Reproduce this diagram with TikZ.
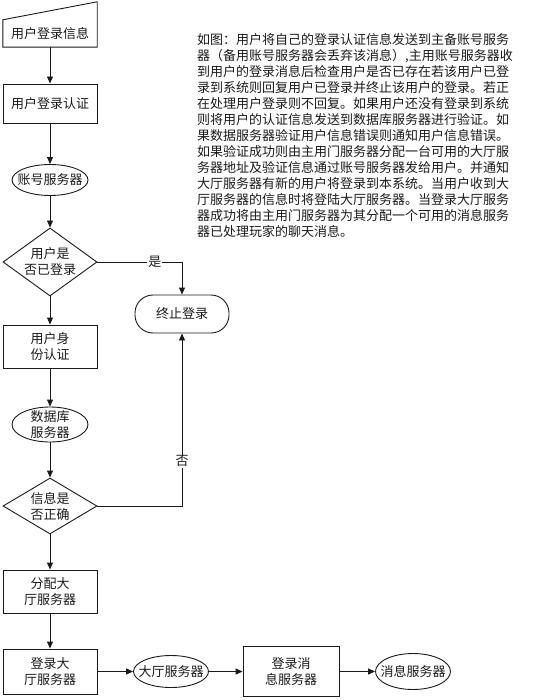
\documentclass[tikz,border=0pt]{standalone}
\usepackage{fontspec}
\setmainfont{Noto Sans CJK SC}
\usetikzlibrary{shapes.geometric,arrows.meta}
\definecolor{inkgrey}{HTML}{1A1A1A}

\tikzset{
  flowline/.style={draw=inkgrey, line width=0.9pt},
  flowarrow/.style={flowline, -{Triangle[length=7pt,width=6pt]}},
  procbox/.style={rectangle, draw=inkgrey, line width=0.9pt, minimum width=94pt,
    inner sep=0pt, align=center},
  serverball/.style={ellipse, draw=inkgrey, line width=0.9pt, inner xsep=-6pt,
    inner ysep=-3pt, minimum width=76pt, minimum height=31pt, align=center},
  decision/.style={diamond, draw=inkgrey, line width=0.9pt, inner sep=-3pt,
    minimum width=94pt, minimum height=55pt, align=center},
  terminal/.style={rectangle, rounded corners=18pt, draw=inkgrey, line width=0.9pt,
    minimum width=94pt, minimum height=38pt},
  branchlabel/.style={fill=white, inner sep=1pt}
}

\begin{document}
\begin{tikzpicture}[x=1pt, y=-1pt, font=\fontsize{13}{16}\selectfont, text=inkgrey]

  % === page frame, pixel units, origin top left ===
  \useasboundingbox (0,0) rectangle (533,700);

  \def\colx{50}   % centre line of the main column
  \def\sidex{182} % centre line of the stop branch

  % === main column ===
  \node[minimum width=94pt, minimum height=27pt, inner sep=0pt] (info) at (\colx,33.5) {用户登录信息};
  % manual input shape: slanted top edge
  \draw[flowline] (info.south west) -- (info.north west)
    -- ([yshift=18pt]info.north east) -- (info.south east) -- cycle;

  \node[procbox, minimum height=39pt] (auth) at (\colx,103.5) {用户登录认证};
  \node[serverball] (acct) at (\colx,180) {账号服务器};
  \node[decision] (logged) at (\colx,262) {用户是\\否已登录};
  \node[procbox, minimum height=43pt] (ident) at (\colx,346.5) {用户身\\份认证};
  \node[serverball, minimum height=35pt] (db) at (\colx,424.5) {数据库\\服务器};
  \node[decision, minimum height=56pt] (check) at (\colx,506) {信息是\\否正确};
  \node[procbox, minimum height=43pt] (alloc) at (\colx,591.5) {分配大\\厅服务器};
  \node[procbox, minimum height=45pt] (enter) at (\colx,671.5) {登录大\\厅服务器};

  % === stop branch ===
  \node[terminal] (stop) at (\sidex,314) {终止登录};

  % === bottom row ===
  \node[serverball, minimum width=75pt, minimum height=32pt] (lobby) at (171,671.5) {大厅服务器};
  \node[procbox, minimum width=96pt, minimum height=50pt] (msglogin) at (291,671.5) {登录消\\息服务器};
  \node[serverball, minimum width=75pt, minimum height=36pt] (msgsrv) at (413,671.5) {消息服务器};

  % === description text ===
  \node[anchor=north west, align=left, inner sep=0pt] (desc) at (197,33) {%
    如图：用户将自己的登录认证信息发送到主备账号服务\\
    器（备用账号服务器会丢弃该消息）,主用账号服务器收\\
    到用户的登录消息后检查用户是否已存在若该用户已登\\
    录到系统则回复用户已登录并终止该用户的登录。若正\\
    在处理用户登录则不回复。如果用户还没有登录到系统\\
    则将用户的认证信息发送到数据库服务器进行验证。如\\
    果数据服务器验证用户信息错误则通知用户信息错误。\\
    如果验证成功则由主用门服务器分配一台可用的大厅服\\
    务器地址及验证信息通过账号服务器发给用户。并通知\\
    大厅服务器有新的用户将登录到本系统。当用户收到大\\
    厅服务器的信息时将登陆大厅服务器。当登录大厅服务\\
    器成功将由主用门服务器为其分配一个可用的消息服务\\
    器已处理玩家的聊天消息。};

  % === connectors ===
  \draw[flowarrow] (info) -- (auth);
  \draw[flowarrow] (auth) -- (acct);
  \draw[flowarrow] (acct) -- (logged);
  \draw[flowarrow] (logged) -- (ident);
  \draw[flowarrow] (ident) -- (db);
  \draw[flowarrow] (db) -- (check);
  \draw[flowarrow] (check) -- (alloc);
  \draw[flowarrow] (alloc) -- (enter);

  \draw[flowarrow] (logged.east) -| node[branchlabel, pos=0.34] {是} (stop.north);
  \draw[flowarrow] (check.east) -| node[branchlabel, pos=0.63] {否} (stop.south);

  \draw[flowarrow] (enter) -- (lobby);
  \draw[flowarrow] (lobby) -- (msglogin);
  \draw[flowarrow] (msglogin) -- (msgsrv);

\end{tikzpicture}
\end{document}
